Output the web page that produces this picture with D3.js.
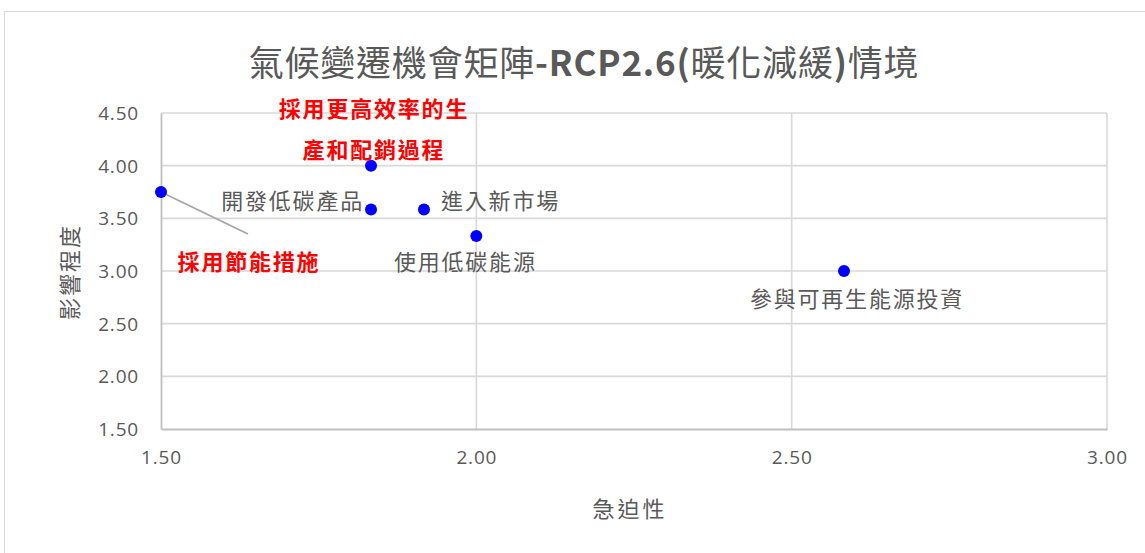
<!DOCTYPE html>
<html><head><meta charset="utf-8">
<script src="https://cdn.jsdelivr.net/npm/d3@7"></script>
<style>
html,body{margin:0;padding:0;background:#fff;}
svg{display:block;}
text{font-family:"Noto Sans CJK TC","Noto Sans",sans-serif;}
</style></head>
<body><svg id="c" width="1145" height="553"></svg>
<script>
// ---- data ----
const labels = ["採用節能措施","採用更高效率的生產和配銷過程","開發低碳產品","進入新市場","使用低碳能源","參與可再生能源投資"];
const urgency = [1.50, 1.833, 1.833, 1.917, 2.00, 2.583];
const impact = [3.75, 4.00, 3.583, 3.583, 3.333, 3.00];
const highlighted = [true, true, false, false, false, false];
const xTicks = [1.5, 2.0, 2.5, 3.0];
const yTicks = [1.5, 2.0, 2.5, 3.0, 3.5, 4.0, 4.5];
const titleParts = [["氣候變遷機會矩陣",false],["-RCP2.6(",true],["暖化減緩",false],[")",true],["情境",false]];
const xTitle = "急迫性";
const yTitle = "影響程度";

// ---- drawing ----
const svg = d3.select("#c");
svg.append("rect").attr("x",4.5).attr("y",11.5).attr("width",1160).attr("height",560)
  .attr("fill","#fff").attr("stroke","#d9d9d9").attr("stroke-width",1);

const x = d3.scaleLinear().domain([1.5,3]).range([161,1107]);
const y = d3.scaleLinear().domain([1.5,4.5]).range([429,113]);
const fmt = d3.format(".2f");

// gridlines
svg.append("g").selectAll("line").data(yTicks.slice(1)).join("line")
  .attr("x1",x(1.5)).attr("x2",x(3)).attr("y1",d=>y(d)).attr("y2",d=>y(d))
  .attr("stroke","#d9d9d9").attr("stroke-width",1.6);
svg.append("g").selectAll("line").data(xTicks.slice(1)).join("line")
  .attr("y1",y(1.5)).attr("y2",y(4.5)).attr("x1",d=>x(d)).attr("x2",d=>x(d))
  .attr("stroke","#d9d9d9").attr("stroke-width",1.6);

// axes
const yAxis = svg.append("g").attr("transform",`translate(${x(1.5)},0)`)
  .call(d3.axisLeft(y).tickValues(yTicks).tickFormat(fmt).tickSize(0).tickPadding(22));
const xAxis = svg.append("g").attr("transform",`translate(0,${y(1.5)})`)
  .call(d3.axisBottom(x).tickValues(xTicks).tickFormat(fmt).tickSize(0).tickPadding(22));
[yAxis,xAxis].forEach(a=>{
  a.select(".domain").attr("stroke","#bfbfbf").attr("stroke-width",1.8);
  a.selectAll("text").attr("fill","#595959").style("font-size","19px")
   .style("font-family","'Open Sans','Noto Sans',sans-serif").style("letter-spacing","0.8px");
});
yAxis.selectAll("text").attr("dy","0.35em");

// leader line for first label
svg.append("line").attr("x1",x(urgency[0])).attr("y1",y(impact[0]))
  .attr("x2",x(urgency[0])+87).attr("y2",y(impact[0])+42)
  .attr("stroke","#a6a6a6").attr("stroke-width",1.8);

// points
svg.append("g").selectAll("circle").data(labels).join("circle")
  .attr("cx",(d,i)=>x(urgency[i])).attr("cy",(d,i)=>y(impact[i])).attr("r",6)
  .attr("fill","#0000ff");

// data labels
const place = [
  {dx:88, dy:68, anchor:"middle"},
  {dx:3, dy:-59, anchor:"middle"},
  {dx:-7, dy:-11, anchor:"end"},
  {dx:17, dy:-11, anchor:"start"},
  {dx:-11, dy:24, anchor:"middle"},
  {dx:13, dy:26, anchor:"middle"}
];
const lg = svg.append("g");
labels.forEach((d,i)=>{
  const p = place[i];
  const t = lg.append("text")
    .attr("x",x(urgency[i])+p.dx).attr("y",y(impact[i])+p.dy)
    .attr("text-anchor",p.anchor).attr("dominant-baseline","central")
    .attr("fill",highlighted[i]?"#ff0000":"#595959")
    .style("font-weight",highlighted[i]?"700":"400")
    .style("font-size","22px").style("letter-spacing","1.8px");
  if(i===1){
    t.append("tspan").attr("x",x(urgency[i])+p.dx).text(d.slice(0,8));
    t.append("tspan").attr("x",x(urgency[i])+p.dx).attr("dy",41).text(d.slice(8));
  } else t.text(d);
});

// title
const tt = svg.append("text").attr("x",584).attr("y",60).attr("text-anchor","middle")
  .attr("dominant-baseline","central").attr("fill","#595959")
  .style("font-size","35px").style("letter-spacing","0.8px");
titleParts.forEach(([s,b])=>tt.append("tspan").style("font-weight",b?"700":"400").text(s));

// axis titles
svg.append("text").attr("x",630).attr("y",507).attr("text-anchor","middle")
  .attr("dominant-baseline","central").attr("fill","#595959")
  .style("font-size","22px").style("letter-spacing","3px").text(xTitle);
svg.append("text").attr("transform","translate(68,272) rotate(-90)").attr("text-anchor","middle")
  .attr("dominant-baseline","central").attr("fill","#595959")
  .style("font-size","22px").style("letter-spacing","2px").text(yTitle);
</script></body></html>
